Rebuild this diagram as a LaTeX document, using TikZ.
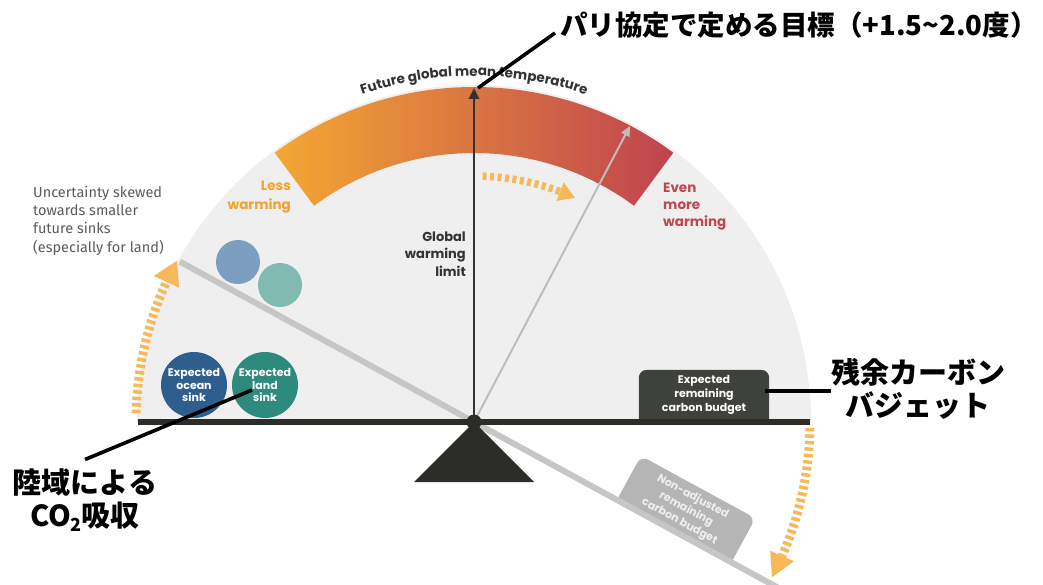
\documentclass[tikz,border=0pt]{standalone}
\usepackage{fontspec}
\setmainfont{Fira Sans}
\newfontfamily\pop{Poppins}
\newfontfamily\jp{Noto Sans CJK JP}
\usetikzlibrary{calc,decorations.text,arrows.meta}
\definecolor{bggray}{HTML}{EFEFEF}
\definecolor{dark}{HTML}{2C2C29}
\definecolor{arrowdark}{HTML}{333333}
\definecolor{lgray}{HTML}{BDBDBD}
\definecolor{tiltgray}{HTML}{C6C6C6}
\definecolor{dashor}{HTML}{F7B85A}
\definecolor{bandL}{HTML}{F4A733}
\definecolor{bandM}{HTML}{DF8446}
\definecolor{bandR}{HTML}{BF434F}
\definecolor{lessor}{HTML}{F2A230}
\definecolor{evenred}{HTML}{C04750}
\definecolor{uncgray}{HTML}{5B5B5B}
\definecolor{ocean}{HTML}{2E5E8E}
\definecolor{land}{HTML}{2E8A7C}
\definecolor{oceanL}{HTML}{7C9EC0}
\definecolor{landL}{HTML}{80BAB0}
\definecolor{boxdark}{HTML}{3F413D}
\definecolor{boxgray}{HTML}{B5B5B5}
\begin{document}
\begin{tikzpicture}[x=1pt,y=1pt,
  sink/.style={circle, minimum size=66, inner sep=0, text=white, align=center,
    font=\pop\bfseries\fontsize{11}{12.8}\selectfont},
  ghost/.style={circle, minimum size=44, inner sep=0},
  budget/.style={minimum width=130, minimum height=50, inner sep=0},
  budgettext/.style={align=center, inner sep=0, font=\pop\bfseries\fontsize{11}{14}\selectfont},
  dashed arc/.style={color=dashor, line width=9, dash pattern=on 3.5 off 3},
  leader/.style={line width=3.6, black},
  jplabel/.style={inner sep=0, align=center, font=\jp\bfseries\fontsize{29}{33}\selectfont}
]
\useasboundingbox (0,0) rectangle (1043,584);
\coordinate (P) at (474,162);

% background semicircle
\fill[bggray] ($(P)+(337,0)$) arc[start angle=0, end angle=180, radius=337] -- cycle;

% temperature band
\shade[left color=bandL, middle color=bandM, right color=bandR]
  ($(P)+(126.5:335)$) arc[start angle=126.5, end angle=53.5, radius=335]
  -- ($(P)+(53.5:269)$) arc[start angle=53.5, end angle=126.5, radius=269] -- cycle;

% curved title
\path[decorate, decoration={text along path, text align=center,
  text={|\pop\bfseries\fontsize{13.5}{13.5}\selectfont\color{arrowdark}|Future global mean temperature}}]
  ($(P)+(125:346)$) arc[start angle=125, end angle=55, radius=346];

% texts
\node[anchor=east, align=right, inner sep=0, text=lessor, font=\pop\bfseries\fontsize{13.5}{19}\selectfont] (less) at (291,386.5) {Less\\warming};
\node[anchor=west, align=left, inner sep=0, text=evenred, font=\pop\bfseries\fontsize{13.5}{17}\selectfont] (even) at (663,377) {Even\\more\\warming};
\node[anchor=east, align=right, inner sep=0, text=arrowdark, font=\pop\bfseries\fontsize{13}{17.5}\selectfont] (limit) at (466,330) {Global\\warming\\limit};
\node[anchor=west, align=left, inner sep=0, text=uncgray, font=\fontsize{14.5}{18.3}\selectfont] (unc) at (33,363.5) {Uncertainty skewed\\towards smaller\\future sinks\\(especially for land)};

% sinks
\node[ghost, fill=oceanL] (oceanU) at (238,322) {};
\node[ghost, fill=landL] (landU) at (280,299) {};
\node[sink, fill=ocean] (oceanS) at (194,199) {Expected\\ocean\\sink};
\node[sink, fill=land] (landS) at (265,199) {Expected\\land\\sink};

% dashed arcs
\draw[dashed arc] ($(P)+(178.5:338)$) arc[start angle=178.5, end angle=155.5, radius=338];
\fill[dashor] ($(P)+(151.5:338)$) -- ($(P)+(155.5:324)$) -- ($(P)+(155.5:352)$) -- cycle;
\draw[dashed arc] ($(P)+(-1:336)$) arc[start angle=-1, end angle=-23.5, radius=336];
\fill[dashor] ($(P)+(-27.5:336)$) -- ($(P)+(-23.5:323)$) -- ($(P)+(-23.5:349)$) -- cycle;
\draw[dashed arc, line width=7.5, dash pattern=on 4 off 3.5] ($(P)+(88:246)$) arc[start angle=88, end angle=69.5, radius=246];
\fill[dashor] ($(P)+(65.8:246)$) -- ($(P)+(69.5:236)$) -- ($(P)+(69.5:256)$) -- cycle;

% non-adjusted budget box
\node[budget, rotate=-28.6] (nb) at ($(P)+(-28.6:228)+(61.4:25)$) {};
\fill[boxgray] (nb.south west) [rounded corners=8] -- (nb.north west) -- (nb.north east) [sharp corners] -- (nb.south east) -- cycle;
\node[budgettext, rotate=-28.6, text=bggray] at (nb.center) {Non-adjusted\\remaining\\carbon budget};

% tilted beam
\coordinate (tiltL) at ($(P)+(151.4:335)$);
\coordinate (tiltR) at ($(P)+(-28.6:380)$);
\draw[tiltgray, line width=6] (tiltL) -- (P) -- (tiltR);

% expected budget box
\node[budget] (eb) at (704,189) {};
\fill[boxdark] (eb.south west) [rounded corners=8] -- (eb.north west) -- (eb.north east) [sharp corners] -- (eb.south east) -- cycle;
\node[budgettext, text=white] at (eb.center) {Expected\\remaining\\carbon budget};

% arrows
\coordinate (tipV) at (474,496);
\coordinate (tipG) at (630,458);
\draw[lgray, line width=2, -{Triangle[width=9,length=10]}] (P) -- (tipG);
\draw[arrowdark, line width=2.6, -{Triangle[width=10,length=11]}] (P) -- (tipV);

% beam and fulcrum
\coordinate (beamL) at (138,162);
\coordinate (beamR) at (810,162);
\draw[dark, line width=5.5] (beamL) -- (beamR);
\fill[dark] (P) -- (414,102) -- (534,102) -- cycle;
\fill[dark] (P) circle (7.5);

% Japanese labels
\node[jplabel, anchor=west, font=\jp\bfseries\fontsize{27.5}{33}\selectfont] (jp1) at (560,559) {パリ協定で定める目標（+1.5{\char"007E}2.0度）};
\node[jplabel] (jp2) at (918,195) {残余カーボン\\バジェット};
\node[jplabel] (jp3) at (85,84) {陸域による\\CO{\raisebox{-0.3ex}{\fontsize{18}{18}\selectfont 2}}吸収};

\draw[leader] ($(tipV)+(4,0)$) -- ($(jp1.west)+(-5,-8)$);
\coordinate (l2) at (765,193);
\draw[leader] (l2) -- (l2 -| jp2.west);
\coordinate (l3) at (252,194);
\draw[leader] (l3) -- ($(jp3.north)+(0,9)$);
\end{tikzpicture}
\end{document}
